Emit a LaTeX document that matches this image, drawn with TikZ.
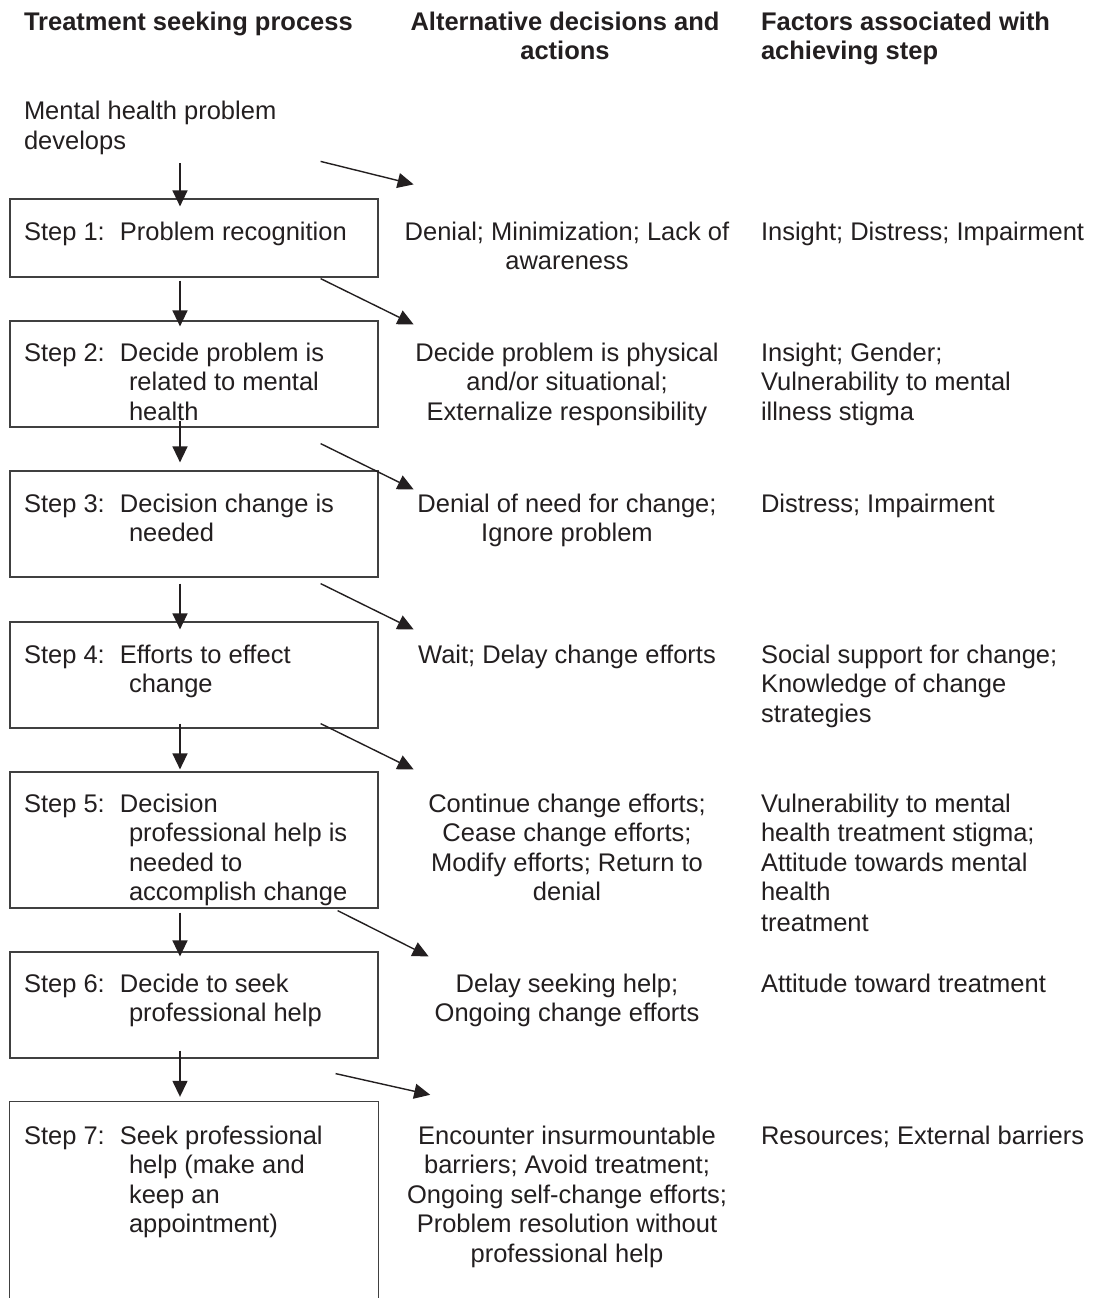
\documentclass[tikz,border=0pt]{standalone}
\usepackage{fontspec}
\setmainfont{Liberation Sans}
\usetikzlibrary{arrows.meta}
\definecolor{ink}{HTML}{231F20}
\begin{document}
\begin{tikzpicture}[x=1pt,y=-1pt,
  stepbox/.style={draw=black!75, line width=1.2pt, minimum width=368pt, inner sep=0pt},
  txt/.style={inner sep=0pt, outer sep=0pt, text=ink, font=\fontsize{25.5}{29.5}\selectfont},
  hdr/.style={inner sep=0pt, outer sep=0pt, text=ink, font=\fontsize{25.5}{28.5}\selectfont\bfseries},
  col2/.style={txt, anchor=base, align=center},
  col3/.style={txt, anchor=base west, align=left},
  steptxt/.style={txt, anchor=base west, align=left},
  arr/.style={line width=1.4pt, draw=ink, -{Triangle[length=16pt,width=15pt]}}
]
\useasboundingbox[fill=white] (0,0) rectangle (1100,1298);

% headers (multi-line nodes: base = baseline of the last line)
\node[hdr, anchor=base west] (h1) at (24,31) {Treatment seeking process};
\node[hdr, anchor=base, align=center] (h2) at (565,59.5) {Alternative decisions and\\actions};
\node[hdr, anchor=base west, align=left] (h3) at (761,59.5) {Factors associated with\\achieving step};

% start text
\node[txt, anchor=base west, align=left] (m0) at (24,149) {Mental health problem\\develops};

% boxes
\node[stepbox, minimum height=78pt]  (s1) at (194,238) {};
\node[stepbox, minimum height=106pt] (s2) at (194,374) {};
\node[stepbox, minimum height=106pt] (s3) at (194,524) {};
\node[stepbox, minimum height=106pt] (s4) at (194,675) {};
\node[stepbox, minimum height=136pt] (s5) at (194,840) {};
\node[stepbox, minimum height=106pt] (s6) at (194,1005) {};
\node[minimum width=368pt, minimum height=196pt, inner sep=0pt] (s7) at (194,1200) {};
\draw[draw=black!75, line width=1.2pt] (s7.south west) -- (s7.north west) -- (s7.north east) -- (s7.south east);

% step texts
\node[steptxt] (t1) at (24,240) {\makebox[96pt][l]{Step 1:}Problem recognition};
\node[steptxt] (t2) at (24,420) {\makebox[96pt][l]{Step 2:}Decide problem is\\\hspace*{105pt}related to mental\\\hspace*{105pt}health};
\node[steptxt] (t3) at (24,541.5) {\makebox[96pt][l]{Step 3:}Decision change is\\\hspace*{105pt}needed};
\node[steptxt] (t4) at (24,692.5) {\makebox[96pt][l]{Step 4:}Efforts to effect\\\hspace*{105pt}change};
\node[steptxt] (t5) at (24,900.5) {\makebox[96pt][l]{Step 5:}Decision\\\hspace*{105pt}professional help is\\\hspace*{105pt}needed to\\\hspace*{105pt}accomplish change};
\node[steptxt] (t6) at (24,1021.5) {\makebox[96pt][l]{Step 6:}Decide to seek\\\hspace*{105pt}professional help};
\node[steptxt] (t7) at (24,1232.5) {\makebox[96pt][l]{Step 7:}Seek professional\\\hspace*{105pt}help (make and\\\hspace*{105pt}keep an\\\hspace*{105pt}appointment)};

% alternative decisions
\node[col2] (r1) at (567,269.5) {Denial; Minimization; Lack of\\awareness};
\node[col2] (r2) at (567,420) {Decide problem is physical\\and/or situational;\\Externalize responsibility};
\node[col2] (r3) at (567,541.5) {Denial of need for change;\\Ignore problem};
\node[col2] (r4) at (567,663) {Wait; Delay change efforts};
\node[col2] (r5) at (567,900.5) {Continue change efforts;\\Cease change efforts;\\Modify efforts; Return to\\denial};
\node[col2] (r6) at (567,1021.5) {Delay seeking help;\\Ongoing change efforts};
\node[col2] (r7) at (567,1262) {Encounter insurmountable\\barriers; Avoid treatment;\\Ongoing self-change efforts;\\Problem resolution without\\professional help};

% factors
\node[col3] (f1) at (761,240) {Insight; Distress; Impairment};
\node[col3] (f2) at (761,420) {Insight; Gender;\\Vulnerability to mental\\illness stigma};
\node[col3] (f3) at (761,512) {Distress; Impairment};
\node[col3] (f4) at (761,722) {Social support for change;\\Knowledge of change\\strategies};
\node[col3] (f5) at (761,931) {Vulnerability to mental\\health treatment stigma;\\Attitude towards mental\\health\\[1pt]treatment};
\node[col3] (f6) at (761,992) {Attitude toward treatment};
\node[col3] (f7) at (761,1144) {Resources; External barriers};

% vertical arrows
\draw[arr] ([xshift=-14pt,yshift=-9pt]s1.north |- m0.south) -- ([xshift=-14pt,yshift=-8pt]s1.north);
\draw[arr] ([xshift=-14pt,yshift=-3pt]s1.south) -- ([xshift=-14pt,yshift=-6pt]s2.north);
\draw[arr] ([xshift=-14pt,yshift=7pt]s2.south) -- ([xshift=-14pt,yshift=8pt]s3.north);
\draw[arr] ([xshift=-14pt,yshift=-6pt]s3.south) -- ([xshift=-14pt,yshift=-8pt]s4.north);
\draw[arr] ([xshift=-14pt,yshift=5pt]s4.south) -- ([xshift=-14pt,yshift=2pt]s5.north);
\draw[arr] ([xshift=-14pt,yshift=-4pt]s5.south) -- ([xshift=-14pt,yshift=-5pt]s6.north);
\draw[arr] ([xshift=-14pt,yshift=8pt]s6.south) -- ([xshift=-14pt,yshift=5pt]s7.north);

% diagonal arrows
\draw[arr] ([xshift=-58pt,yshift=37pt]s1.north east) -- ([xshift=35pt,yshift=14pt]s1.north east);
\draw[arr] ([xshift=-58pt,yshift=-1pt]s1.south east) -- ([xshift=35pt,yshift=-4pt]s2.north east);
\draw[arr] ([xshift=-58pt,yshift=-16pt]s2.south east) -- ([xshift=35pt,yshift=-19pt]s3.north east);
\draw[arr] ([xshift=-58pt,yshift=-6pt]s3.south east) -- ([xshift=35pt,yshift=-8pt]s4.north east);
\draw[arr] ([xshift=-58pt,yshift=5pt]s4.south east) -- ([xshift=35pt,yshift=2pt]s5.north east);
\draw[arr] ([xshift=-41pt,yshift=-2pt]s5.south east) -- ([xshift=50pt,yshift=-5pt]s6.north east);
\draw[arr] ([xshift=-43pt,yshift=-15pt]s6.south east) -- ([xshift=52pt,yshift=7pt]s7.north east);
\end{tikzpicture}
\end{document}
